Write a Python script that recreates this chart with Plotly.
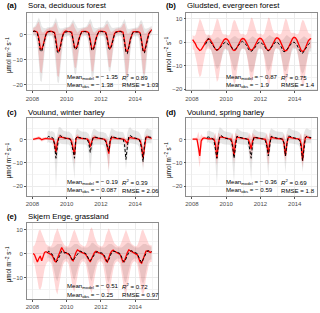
import plotly.graph_objects as go

N = None
W, H = 320, 313
MONTHS = [2008 + (i + 0.5) / 12 for i in range(84)]
X_TICKS = [2008, 2010, 2012, 2014]
X_MINOR = [2009, 2011, 2013, 2015]

# ---------------- (a) Sora, deciduous forest ----------------
A_MOD = [1.5, 1.6, 1.4, 1.0, -1.2, -5.6, -5.9, -4.2, -1.8, 0.3, 1.2, 1.4,
         1.5, 1.4, 1.3, 0.9, -2.0, -6.2, -6.6, -4.8, -1.9, 0.3, 1.2, 1.5,
         1.4, 1.5, 1.3, 1.0, -1.4, -5.0, -5.3, -4.4, -1.7, 0.3, 1.3, 1.4,
         1.5, 1.4, 1.2, 0.8, -1.9, -5.5, -5.7, -4.1, -1.4, 0.4, 1.3, 1.5,
         1.5, 1.4, 1.3, 0.9, -1.4, -5.0, -5.4, -3.9, -1.4, 0.5, 1.2, 1.4,
         1.4, 1.5, 1.3, 1.0, -2.4, -6.3, -6.8, -4.9, -1.9, 0.2, 1.2, 1.3,
         1.4, 1.3, 1.2, 0.7, -2.4, -6.2, -6.7, -4.7, -1.7, 0.5, 1.5, 2.0]
A_MOD_HI = [2.6, 2.8, 3.3, 4.5, 5.2, 3.2, 1.2, 0.8, 1.5, 2.0, 2.4, 2.5,
            2.6, 2.7, 3.1, 4.3, 5.0, 2.6, 0.8, 0.5, 1.3, 2.0, 2.3, 2.5,
            2.5, 2.7, 3.2, 4.2, 4.8, 3.0, 1.5, 0.8, 1.4, 2.1, 2.4, 2.5,
            2.6, 2.7, 3.1, 4.1, 4.6, 2.8, 1.2, 0.8, 1.5, 2.1, 2.4, 2.6,
            2.6, 2.6, 3.0, 4.0, 4.5, 3.0, 1.5, 1.0, 1.6, 2.2, 2.4, 2.5,
            2.5, 2.7, 3.1, 4.3, 4.6, 2.2, 0.5, 0.5, 1.3, 2.0, 2.3, 2.4,
            2.5, 2.5, 3.0, 4.1, 4.4, 2.3, 0.6, 0.6, 1.4, 2.2, 2.6, 3.0]
A_MOD_LO = [0.5, 0.4, -0.4, -2.5, -8.5, -15.0, -15.5, -11.0, -5.0, -1.5, 0.1, 0.4,
            0.5, 0.4, -0.5, -3.0, -9.5, -16.5, -17.0, -12.0, -5.5, -1.6, 0.1, 0.5,
            0.4, 0.5, -0.4, -2.5, -8.0, -13.0, -13.5, -10.5, -5.0, -1.4, 0.2, 0.4,
            0.5, 0.4, -0.5, -2.8, -9.0, -14.5, -15.0, -10.5, -4.5, -1.3, 0.2, 0.5,
            0.5, 0.4, -0.4, -2.5, -8.0, -13.0, -13.2, -10.0, -4.5, -1.2, 0.2, 0.4,
            0.4, 0.5, -0.4, -3.0, -10.0, -16.0, -16.8, -12.0, -5.5, -1.6, 0.1, 0.3,
            0.4, 0.3, -0.5, -3.0, -10.0, -15.5, -16.0, -11.5, -5.0, -1.3, 0.4, 1.0]
A_OBS = [1.3, 1.5, 1.2, 0.5, -2.4, -6.4, -6.8, -5.0, -2.4, 0.0, 1.0, 1.3,
         1.3, 1.2, 1.2, 0.5, -3.0, -7.0, -7.3, -5.4, -2.4, 0.0, 1.0, 1.2,
         1.2, 1.3, 1.1, 0.6, -2.0, -5.6, -5.9, -4.9, -2.2, 0.0, 1.0, 1.2,
         1.3, 1.2, 1.0, 0.4, -2.6, -6.1, -6.3, -4.7, -2.0, 0.2, 1.1, 1.3,
         1.3, 1.2, 1.0, 0.5, -2.1, -5.6, -5.9, -4.4, -2.0, 0.3, 1.0, 1.2,
         1.2, 1.3, 1.1, 0.6, -3.1, -7.1, -7.6, -5.5, -2.5, 0.0, 1.0, 1.1,
         1.2, 1.1, 1.0, 0.4, -3.0, -6.8, -7.3, -5.3, -2.3, 0.3, 1.3, 2.2]
A_OBS_HI = [3.0, 3.3, 4.2, 6.0, 7.0, 5.5, 3.5, 2.8, 2.6, 2.6, 3.0, 3.0,
            3.0, 3.2, 4.0, 5.8, 7.0, 5.0, 3.0, 2.5, 2.5, 2.6, 2.9, 3.0,
            2.9, 3.2, 4.0, 5.5, 6.2, 5.0, 3.5, 2.8, 2.6, 2.7, 3.0, 3.0,
            3.0, 3.2, 4.0, 5.6, 6.5, 5.2, 3.2, 2.7, 2.6, 2.7, 3.0, 3.1,
            3.0, 3.1, 3.9, 5.4, 6.0, 5.0, 3.5, 2.9, 2.7, 2.8, 3.0, 3.0,
            2.9, 3.2, 4.0, 5.7, 6.5, 4.5, 2.5, 2.3, 2.4, 2.6, 2.9, 2.9,
            2.9, 3.0, 3.8, 5.5, 6.0, 4.5, 2.6, 2.4, 2.5, 2.8, 3.2, 3.6]
A_OBS_LO = [-0.4, -0.3, -1.3, -4.0, -11.5, -18.5, -19.0, -14.0, -7.5, -2.8, -0.8, -0.4,
            -0.4, -0.5, -1.4, -4.5, -12.5, -19.0, -19.5, -14.5, -7.8, -2.9, -0.9, -0.5,
            -0.5, -0.4, -1.3, -4.0, -10.5, -15.5, -16.0, -13.0, -7.0, -2.7, -0.8, -0.5,
            -0.4, -0.5, -1.4, -4.2, -11.5, -17.5, -18.0, -13.5, -6.8, -2.6, -0.8, -0.4,
            -0.4, -0.5, -1.3, -4.0, -10.0, -14.5, -15.0, -12.0, -6.5, -2.5, -0.8, -0.5,
            -0.5, -0.4, -1.3, -4.5, -12.5, -18.5, -19.0, -14.5, -7.5, -2.9, -0.9, -0.6,
            -0.5, -0.6, -1.4, -4.5, -12.0, -17.0, -17.5, -14.0, -7.0, -2.6, -0.6, 0.0]

# ---------------- (b) Gludsted, evergreen forest ----------------
B_MOD = [1.0, 0.3, -0.8, -2.2, -3.2, -3.6, -3.3, -2.5, -1.3, 0.0, 0.9, 1.3,
         1.2, 0.5, -0.6, -2.0, -3.1, -3.5, -3.2, -2.4, -1.2, 0.1, 1.0, 1.4,
         1.3, 0.6, -0.5, -2.1, -3.2, -3.6, -3.4, -2.4, -1.1, 0.2, 1.1, 1.5,
         1.4, 0.6, -0.6, -2.0, -3.0, -3.5, -3.2, -2.3, -1.0, 0.3, 1.2, 1.6,
         1.5, 0.7, -0.5, -2.0, -3.1, -3.6, -3.3, -2.3, -1.0, 0.4, 1.3, 1.8,
         1.6, 0.8, -0.6, -2.2, -3.3, -3.8, -3.5, -2.4, -1.0, 0.5, 1.5, 2.0,
         1.8, 0.9, -0.6, -2.3, -3.6, -4.0, -3.6, -2.4, -0.9, 0.5, 1.2, 1.5]
B_MOD_HI = [3.0, 2.5, 3.0, 5.0, 8.0, 10.0, 9.0, 7.0, 5.0, 3.5, 3.0, 3.2,
            3.0, 2.8, 3.5, 5.5, 8.5, 10.0, 9.5, 7.0, 5.0, 3.5, 3.2, 3.3,
            3.2, 2.8, 3.2, 5.0, 8.0, 9.5, 9.0, 7.0, 5.0, 3.8, 3.3, 3.5,
            3.3, 3.0, 3.5, 5.5, 8.5, 10.5, 10.0, 7.5, 5.2, 3.8, 3.5, 3.6,
            3.5, 3.0, 3.5, 5.5, 8.5, 10.5, 10.0, 7.5, 5.2, 4.0, 3.6, 3.8,
            3.6, 3.2, 3.5, 5.2, 8.0, 10.0, 9.5, 7.2, 5.0, 4.0, 3.8, 4.0,
            3.8, 3.3, 3.5, 5.0, 8.0, 9.5, 9.0, 7.0, 5.0, 4.0, 3.5, 3.5]
B_MOD_LO = [-3.0, -3.5, -5.5, -9.0, -13.0, -15.0, -14.0, -11.0, -7.5, -4.5, -3.0, -2.8,
            -3.0, -3.5, -5.5, -9.5, -14.0, -17.0, -16.0, -12.0, -8.0, -4.5, -3.0, -2.8,
            -3.0, -3.5, -6.0, -10.0, -15.0, -18.0, -17.0, -12.5, -8.0, -4.5, -3.0, -2.8,
            -2.8, -3.5, -5.5, -9.5, -14.0, -17.0, -16.0, -12.0, -7.5, -4.3, -2.8, -2.6,
            -2.8, -3.5, -5.8, -10.0, -15.5, -19.0, -17.5, -12.5, -7.8, -4.3, -2.7, -2.5,
            -2.7, -3.4, -5.6, -9.8, -14.5, -17.5, -16.5, -12.0, -7.5, -4.0, -2.5, -2.3,
            -2.5, -3.3, -5.8, -10.5, -16.0, -19.0, -18.0, -13.0, -8.0, -4.2, -2.8, -2.5]
B_OBS = [N, N, N, N, N, N, N, N, N, -1.0, 0.5, 1.5,
         0.5, -0.5, -1.5, -2.5, -3.0, -3.5, -3.0, -2.8, -2.0, -1.0, -0.5, 0.0,
         -0.5, -1.0, -1.5, -2.2, -2.8, -3.2, -3.0, -2.5, -1.5, -0.5, 0.0, 0.3,
         -0.2, -0.8, -1.5, -3.0, -3.8, -4.0, -3.6, -3.0, -2.0, -1.0, -0.3, 0.0,
         -0.3, -0.8, -1.5, -2.8, -3.5, -3.8, -3.0, -2.5, -1.5, -0.5, 0.0, 0.2,
         -0.5, -1.0, -2.0, -3.5, -4.2, -3.8, -3.2, -2.5, -1.5, -0.8, -0.3, 0.0,
         -0.5, -1.2, -2.5, -3.8, -4.5, -4.8, -4.0, -3.0, -2.0, -1.0, -0.5, -1.0]
B_OBS_HI = [N, N, N, N, N, N, N, N, N, 1.0, 2.0, 3.0,
            2.5, 1.5, 1.0, 1.0, 1.5, 2.0, 2.0, 1.5, 1.0, 1.0, 1.2, 1.5,
            1.5, 1.0, 1.0, 1.5, 2.0, 2.5, 2.5, 2.0, 1.5, 1.5, 1.8, 2.0,
            1.8, 1.2, 1.0, 1.0, 1.5, 2.0, 2.5, 2.0, 1.5, 1.2, 1.5, 1.8,
            1.8, 1.2, 1.0, 1.5, 2.0, 2.5, 3.0, 2.5, 2.0, 1.8, 2.0, 2.2,
            1.8, 1.2, 0.8, 1.0, 1.5, 2.5, 3.0, 2.5, 2.0, 1.5, 1.8, 2.0,
            1.8, 1.0, 0.5, 1.0, 1.5, 2.0, 2.5, 2.0, 1.5, 1.2, 1.5, 1.2]
B_OBS_LO = [N, N, N, N, N, N, N, N, N, -3.5, -2.5, -1.5,
            -2.5, -3.5, -5.0, -7.5, -10.0, -11.5, -11.0, -10.0, -8.0, -5.5, -4.0, -3.0,
            -3.5, -4.0, -5.0, -7.0, -10.0, -12.0, -12.0, -10.5, -8.0, -5.0, -3.5, -2.8,
            -3.0, -3.5, -5.5, -8.5, -12.0, -13.0, -12.5, -11.0, -8.5, -5.5, -3.5, -3.0,
            -3.0, -3.5, -5.0, -8.0, -11.0, -12.5, -11.5, -10.0, -7.5, -4.5, -3.0, -2.8,
            -3.0, -4.0, -6.0, -9.0, -12.0, -12.5, -11.5, -10.0, -7.5, -5.0, -3.5, -3.0,
            -3.0, -4.0, -6.5, -9.5, -12.5, -13.5, -12.5, -10.5, -8.0, -5.5, -4.0, -4.0]

# ---------------- (c) Voulund, winter barley ----------------
C_MOD = [0.2, 0.3, 0.4, 0.6, 0.8, 0.5, 0.0, 0.3, 0.5, 0.6, 0.5, 0.4,
         0.4, 0.5, 0.3, -1.5, -5.5, -1.0, 1.0, 1.2, 1.0, 0.8, 0.7, 0.6,
         0.6, 0.6, 0.3, -1.0, -3.5, -6.5, 0.5, 1.2, 0.8, 0.6, 0.5, 0.5,
         0.5, 0.5, 0.3, -0.5, -3.0, -1.0, 0.8, 1.0, 0.8, 0.6, 0.5, 0.5,
         0.5, 0.5, 0.2, -0.5, -4.0, -6.0, -0.5, 1.0, 0.9, 0.7, 0.6, 0.5,
         0.5, 0.5, 0.4, 0.3, 0.0, -1.0, -1.5, 0.5, 1.0, 0.8, 0.6, 0.5,
         0.5, 0.4, 0.2, -0.5, -3.0, -8.0, -2.0, 1.0, 1.2, 1.0, 0.8, 0.6]
C_MOD_HI = [0.8, 0.9, 1.0, 1.3, 1.6, 1.3, 0.8, 1.0, 1.2, 1.2, 1.1, 1.0,
            1.0, 1.1, 1.0, 0.5, -1.5, 1.0, 2.5, 2.5, 2.0, 1.6, 1.4, 1.2,
            1.2, 1.2, 1.0, 0.5, 0.5, -2.0, 2.0, 2.5, 1.8, 1.4, 1.2, 1.1,
            1.1, 1.1, 1.0, 0.8, 0.0, 1.0, 2.0, 2.2, 1.7, 1.3, 1.1, 1.1,
            1.1, 1.1, 0.9, 0.8, 0.5, -1.5, 1.5, 2.2, 1.8, 1.4, 1.2, 1.1,
            1.1, 1.1, 1.1, 1.0, 1.0, 0.5, 0.5, 1.8, 2.0, 1.6, 1.3, 1.1,
            1.1, 1.0, 0.9, 0.5, 0.0, -3.5, 0.5, 2.2, 2.3, 1.8, 1.5, 1.3]
C_MOD_LO = [-0.3, -0.3, -0.2, -0.1, 0.0, -0.3, -0.8, -0.5, -0.2, 0.0, 0.0, -0.1,
            -0.2, -0.1, -0.4, -3.5, -9.0, -3.0, -0.5, 0.0, 0.0, 0.0, 0.0, 0.0,
            0.0, 0.0, -0.4, -2.5, -7.0, -10.5, -1.5, 0.0, -0.1, 0.0, -0.1, -0.1,
            -0.1, -0.1, -0.4, -2.0, -5.5, -3.0, -0.3, -0.1, -0.1, 0.0, -0.1, -0.1,
            -0.1, -0.1, -0.5, -2.0, -8.0, -13.0, -3.0, -0.2, 0.0, 0.0, 0.0, -0.1,
            -0.1, -0.1, -0.2, -0.4, -1.2, -3.0, -3.5, -0.5, 0.0, 0.0, 0.0, -0.1,
            -0.1, -0.2, -0.4, -2.0, -6.0, -12.0, -4.5, -0.3, 0.2, 0.2, 0.1, 0.0]
C_OBS = [N, N, N, N, N, N, N, N, N, N, 1.0, 1.5,
         1.0, 1.2, 0.5, -2.0, -8.0, -2.5, 1.5, 1.8, 1.2, 1.0, 0.8, 0.6,
         0.5, 0.6, 0.2, -2.0, -5.0, -8.0, 0.5, 1.5, 1.0, 0.8, 0.7, 0.6,
         0.5, 0.5, 0.0, -1.5, -5.5, -2.0, 1.0, 1.2, 1.0, 0.8, 0.6, 0.6,
         0.5, 0.4, 0.0, -1.0, -3.0, -5.0, 0.0, 1.5, 1.2, 1.0, 0.8, 0.7,
         0.6, 0.6, 0.5, 0.3, -2.0, -8.5, -3.0, 1.5, 1.8, 1.2, 1.0, 0.8,
         0.7, 0.6, 0.3, -1.0, -4.0, -9.5, -2.0, 1.0, 1.5, 1.2, 1.0, 1.0]
C_OBS_HI = [N, N, N, N, N, N, N, N, N, N, 3.5, 4.0,
            3.5, 3.8, 3.5, 3.0, 0.0, 3.5, 5.5, 5.5, 4.5, 4.0, 3.8, 3.5,
            3.5, 3.6, 3.2, 2.5, 1.0, -1.5, 4.0, 5.0, 4.2, 3.8, 3.6, 3.5,
            3.4, 3.5, 3.0, 2.5, 0.5, 3.0, 4.5, 4.8, 4.2, 3.8, 3.5, 3.5,
            3.5, 3.4, 3.0, 2.8, 1.5, 1.0, 3.5, 5.0, 4.5, 4.0, 3.8, 3.6,
            3.6, 3.6, 3.5, 3.3, 2.0, -1.0, 3.0, 5.0, 5.5, 4.5, 4.2, 4.0,
            4.0, 3.8, 3.5, 2.5, 1.0, -2.0, 3.0, 4.5, 5.0, 4.5, 4.2, 4.2]
C_OBS_LO = [N, N, N, N, N, N, N, N, N, N, -1.5, -1.0,
            -1.5, -1.5, -2.5, -7.0, -20.5, -9.0, -2.0, -1.5, -1.8, -2.0, -2.0, -2.0,
            -2.0, -2.0, -2.8, -6.5, -11.0, -17.0, -3.5, -1.8, -2.0, -2.0, -2.0, -2.0,
            -2.0, -2.0, -3.0, -6.0, -15.5, -7.0, -2.5, -2.0, -2.0, -2.0, -2.0, -2.0,
            -2.0, -2.2, -3.0, -5.0, -8.0, -14.5, -3.5, -1.8, -1.8, -1.8, -1.8, -1.8,
            -1.8, -1.8, -2.0, -2.5, -6.0, -13.0, -7.0, -1.8, -1.5, -1.6, -1.7, -1.8,
            -1.8, -2.0, -2.8, -5.5, -8.0, -13.5, -6.0, -2.0, -1.5, -1.5, -1.5, -1.5]

# ---------------- (d) Voulund, spring barley ----------------
D_MOD = [0.3, 0.3, 0.4, 0.3, -3.0, -7.0, -0.5, 0.5, 0.8, 0.6, 0.5, 0.4,
         0.5, 0.5, 0.4, 0.3, -2.0, -8.0, -1.5, 1.0, 1.2, 1.0, 0.8, 0.6,
         0.6, 0.5, 0.4, 0.3, -2.0, -7.0, -1.0, 1.2, 1.0, 0.8, 0.6, 0.5,
         0.5, 0.5, 0.4, 0.2, -1.5, -4.0, -0.5, 1.0, 0.9, 0.8, 0.6, 0.5,
         0.5, 0.5, 0.4, 0.2, -2.0, -6.0, -1.0, 1.0, 0.9, 0.7, 0.6, 0.5,
         0.5, 0.5, 0.4, 0.3, -1.5, -7.0, -1.5, 1.0, 1.0, 0.8, 0.6, 0.5,
         0.5, 0.5, 0.3, 0.2, -2.0, -9.0, -2.0, 1.0, 1.2, 1.0, 0.8, 0.6]
D_MOD_HI = [0.8, 0.8, 0.9, 1.2, 3.5, 0.5, 2.5, 1.5, 1.4, 1.1, 1.0, 0.9,
            1.0, 1.0, 0.9, 1.5, 3.0, -1.0, 3.0, 2.5, 2.0, 1.6, 1.3, 1.1,
            1.1, 1.0, 0.9, 1.5, 3.0, -1.0, 3.0, 2.5, 1.8, 1.4, 1.1, 1.0,
            1.0, 1.0, 0.9, 1.3, 3.0, 1.0, 3.0, 2.2, 1.7, 1.4, 1.1, 1.0,
            1.0, 1.0, 0.9, 1.3, 3.0, 0.0, 3.0, 2.2, 1.7, 1.3, 1.1, 1.0,
            1.0, 1.0, 0.9, 1.2, 2.5, -1.0, 2.5, 2.2, 1.8, 1.4, 1.1, 1.0,
            1.0, 1.0, 0.8, 1.2, 3.0, -2.0, 2.5, 2.4, 2.2, 1.8, 1.4, 1.1]
D_MOD_LO = [-0.2, -0.2, -0.1, -0.2, -8.0, -12.0, -4.5, -0.5, 0.2, 0.1, 0.0, -0.1,
            0.0, 0.0, -0.1, -1.0, -7.0, -11.0, -5.0, -0.3, 0.4, 0.4, 0.3, 0.1,
            0.1, 0.0, -0.1, -1.0, -6.5, -10.0, -4.5, 0.0, 0.2, 0.2, 0.1, 0.0,
            0.0, 0.0, -0.1, -1.0, -6.5, -9.5, -4.0, -0.2, 0.1, 0.2, 0.1, 0.0,
            0.0, 0.0, -0.1, -1.0, -7.0, -11.0, -5.0, -0.2, 0.1, 0.1, 0.1, 0.0,
            0.0, 0.0, -0.1, -0.6, -5.5, -9.5, -5.0, -0.3, 0.2, 0.2, 0.1, 0.0,
            0.0, 0.0, -0.2, -0.8, -7.0, -12.0, -6.0, -0.4, 0.2, 0.2, 0.2, 0.1]
D_OBS = [N, N, N, N, N, N, N, N, N, N, 1.0, 1.2,
         1.0, 0.8, 0.5, -0.5, -4.0, -8.0, -3.0, 1.5, 1.8, 1.2, 0.8, 0.6,
         0.5, 0.5, 0.3, -0.5, -3.0, -8.0, -2.0, 1.5, 1.2, 1.0, 0.8, 0.6,
         0.5, 0.5, 0.3, -0.5, -4.0, -8.0, -2.0, 1.2, 1.0, 0.8, 0.6, 0.6,
         0.5, 0.4, 0.2, -0.5, -3.0, -7.0, -2.0, 1.5, 1.2, 1.0, 0.8, 0.7,
         0.6, 0.6, 0.5, 0.2, -1.5, -7.0, -2.0, 1.5, 1.5, 1.2, 1.0, 0.8,
         0.7, 0.6, 0.3, -0.5, -3.0, -9.0, -2.5, 1.0, 1.5, 1.2, 1.0, 1.0]
D_OBS_HI = [N, N, N, N, N, N, N, N, N, N, 3.5, 4.0,
            3.8, 3.6, 3.2, 3.0, 1.5, 0.0, 3.5, 5.5, 5.0, 4.2, 3.8, 3.6,
            3.5, 3.5, 3.2, 3.0, 2.0, -1.0, 3.5, 5.0, 4.5, 4.0, 3.7, 3.5,
            3.5, 3.5, 3.2, 3.0, 1.5, -0.5, 3.5, 4.8, 4.2, 3.8, 3.5, 3.5,
            3.5, 3.4, 3.1, 3.0, 2.0, 0.0, 3.5, 5.0, 4.5, 4.0, 3.8, 3.6,
            3.6, 3.6, 3.5, 3.3, 2.5, 0.0, 3.5, 5.0, 5.0, 4.5, 4.2, 4.0,
            4.0, 3.8, 3.5, 3.0, 2.0, -1.5, 3.0, 4.5, 5.0, 4.5, 4.2, 4.2]
D_OBS_LO = [N, N, N, N, N, N, N, N, N, N, -1.5, -1.0,
            -1.5, -1.5, -2.0, -3.5, -10.0, -20.0, -8.0, -1.5, -1.5, -1.8, -2.0, -2.0,
            -2.0, -2.0, -2.2, -3.5, -9.0, -18.5, -7.0, -1.5, -1.8, -2.0, -2.0, -2.0,
            -2.0, -2.0, -2.3, -3.5, -10.0, -17.5, -7.0, -1.8, -2.0, -2.0, -2.0, -2.0,
            -2.0, -2.0, -2.2, -3.5, -8.5, -16.0, -6.5, -1.5, -1.8, -1.8, -1.8, -1.8,
            -1.8, -1.8, -1.8, -2.2, -6.0, -14.5, -6.0, -1.5, -1.5, -1.6, -1.7, -1.8,
            -1.8, -2.0, -2.2, -3.5, -7.5, -14.0, -7.0, -2.0, -1.5, -1.5, -1.5, -1.5]

# ---------------- (e) Skjern Enge, grassland ----------------
E_MOD = [0.0, -0.5, -2.0, -3.5, -2.0, -1.0, -3.0, -1.5, 0.5, 0.8, 0.5, 0.3,
         0.0, -0.5, -1.5, -3.0, -3.5, -2.0, -0.5, 1.0, 2.5, 1.5, 0.5, 0.3,
         0.0, -0.3, -1.0, -2.5, -3.0, -1.0, 0.5, 1.5, 1.0, 0.8, 0.5, 0.3,
         0.0, -0.5, -1.5, -2.5, -3.5, -2.0, -0.5, 0.5, 1.0, 0.5, 0.3, 0.2,
         0.0, -0.5, -1.5, -3.0, -3.5, -1.5, 0.0, 1.0, 1.5, 1.0, 0.5, 0.3,
         0.0, -0.5, -2.0, -3.5, -3.0, -1.0, 0.5, 1.5, 1.2, 0.8, 0.5, 0.3,
         0.0, -0.5, -2.0, -3.5, -4.0, -2.0, 0.0, 1.0, 1.2, 0.8, 0.5, 0.8]
E_MOD_HI = [3.0, 3.5, 5.0, 7.5, 9.5, 10.0, 8.5, 6.5, 5.0, 4.0, 3.5, 3.2,
            3.0, 3.5, 5.0, 7.5, 9.5, 10.5, 9.0, 7.0, 5.5, 4.5, 3.5, 3.2,
            3.0, 3.5, 5.0, 7.0, 9.0, 10.0, 8.5, 6.5, 5.0, 4.0, 3.5, 3.2,
            3.0, 3.5, 5.0, 7.5, 10.0, 11.0, 9.5, 7.0, 5.5, 4.0, 3.5, 3.2,
            3.0, 3.5, 5.0, 7.5, 9.5, 10.5, 9.0, 7.0, 5.5, 4.2, 3.5, 3.2,
            3.0, 3.5, 5.0, 7.0, 9.0, 10.0, 8.5, 6.5, 5.0, 4.0, 3.5, 3.2,
            3.0, 3.5, 5.0, 7.5, 9.5, 10.0, 8.5, 6.5, 5.0, 4.0, 3.5, 3.5]
E_MOD_LO = [-3.5, -4.5, -7.0, -11.0, -14.5, -15.0, -13.5, -10.0, -6.5, -4.5, -3.5, -3.2,
            -3.5, -4.5, -7.0, -11.5, -15.5, -17.0, -15.0, -11.0, -7.0, -4.5, -3.5, -3.2,
            -3.5, -4.5, -7.0, -11.0, -15.0, -16.0, -14.0, -10.0, -6.5, -4.5, -3.5, -3.2,
            -3.5, -4.5, -7.0, -11.0, -15.0, -16.5, -14.5, -10.5, -7.0, -4.5, -3.5, -3.2,
            -3.5, -4.5, -7.0, -11.5, -15.5, -17.0, -15.0, -11.0, -7.0, -4.5, -3.5, -3.2,
            -3.5, -4.5, -7.5, -12.0, -16.0, -17.5, -15.5, -11.0, -7.0, -4.5, -3.5, -3.2,
            -3.5, -4.5, -7.5, -12.0, -16.0, -17.0, -15.0, -10.5, -7.0, -4.5, -3.5, -3.5]
E_OBS = [N, N, N, N, N, N, N, N, N, N, 0.5, 1.0,
         0.5, 0.0, -1.0, -2.5, -3.5, -3.0, -1.5, 0.0, 1.0, 0.5, 0.3, 0.5,
         0.3, 0.0, -1.0, -2.0, -3.0, -2.0, -1.0, 0.0, 0.5, 1.0, 0.8, 0.5,
         0.3, 0.0, -1.0, -2.5, -3.0, -2.0, -1.0, 0.0, 0.5, 0.8, 0.5, 0.3,
         0.3, 0.0, -1.0, -2.5, -3.5, -2.5, -1.0, 0.5, 1.0, 1.0, 0.8, 0.5,
         0.3, 0.0, -1.5, -3.0, -3.5, -2.0, -0.5, 0.5, 1.0, 1.2, 0.8, 0.5,
         0.3, 0.0, -1.5, -3.0, -3.8, -2.5, -1.0, 0.0, 1.0, 1.2, 1.0, 0.8]
E_OBS_HI = [N, N, N, N, N, N, N, N, N, N, 2.5, 3.0,
            2.5, 2.5, 2.5, 3.0, 3.5, 4.0, 4.0, 4.0, 4.0, 3.0, 2.5, 2.5,
            2.5, 2.5, 2.5, 3.0, 3.5, 4.0, 4.0, 4.0, 3.5, 3.0, 2.5, 2.5,
            2.5, 2.5, 2.5, 3.0, 3.5, 4.5, 4.5, 4.0, 3.5, 3.0, 2.5, 2.5,
            2.5, 2.5, 2.5, 3.0, 3.5, 4.0, 4.0, 4.0, 3.5, 3.0, 2.5, 2.5,
            2.5, 2.5, 2.5, 3.0, 3.5, 4.0, 4.5, 4.5, 4.0, 3.5, 3.0, 2.5,
            2.5, 2.5, 2.5, 3.0, 3.5, 4.0, 4.0, 4.0, 3.5, 3.5, 3.0, 3.0]
E_OBS_LO = [N, N, N, N, N, N, N, N, N, N, -2.0, -1.5,
            -2.0, -2.5, -4.0, -7.5, -10.5, -11.5, -10.0, -7.0, -4.5, -3.0, -2.5, -2.0,
            -2.0, -2.5, -4.0, -7.0, -10.0, -11.0, -9.5, -7.0, -4.5, -3.0, -2.5, -2.0,
            -2.0, -2.5, -4.0, -7.5, -10.5, -11.5, -10.0, -7.0, -4.5, -3.0, -2.5, -2.0,
            -2.0, -2.5, -4.0, -7.5, -11.0, -12.0, -10.5, -7.5, -4.5, -3.0, -2.5, -2.0,
            -2.0, -2.5, -4.5, -8.0, -11.5, -12.0, -10.5, -7.5, -4.5, -3.0, -2.5, -2.0,
            -2.0, -2.5, -4.5, -8.0, -11.5, -12.5, -11.0, -7.5, -4.5, -3.0, -2.5, -2.5]

TAGS = ["(a)", "(b)", "(c)", "(d)", "(e)"]
TITLES = ["Sora, deciduous forest", "Gludsted, evergreen forest",
          "Voulund, winter barley", "Voulund, spring barley", "Skjern Enge, grassland"]
MEAN_MODEL = ["1.35", "0.87", "0.19", "0.36", "0.51"]
MEAN_OBS = ["1.38", "1.9", "0.087", "0.59", "0.25"]
R2 = ["0.89", "0.75", "0.39", "0.69", "0.72"]
RMSE = ["1.03", "1.4", "2.06", "1.8", "0.97"]
Y_RANGES = [[-22.4, 8.8], [-20.6, 12.4], [-24.2, 9.3], [-24.2, 9.3], [-18.9, 12.9]]
Y_TICKS = [[-20, -10, 0], [-20, -10, 0, 10], [-20, -10, 0], [-20, -10, 0], [-10, 0, 10]]
Y_MINOR = [[-15, -5, 5], [-15, -5, 5], [-15, -5, 5], [-15, -5, 5], [-15, -5, 5]]

SERIES = [
    (A_MOD, A_MOD_LO, A_MOD_HI, A_OBS, A_OBS_LO, A_OBS_HI),
    (B_MOD, B_MOD_LO, B_MOD_HI, B_OBS, B_OBS_LO, B_OBS_HI),
    (C_MOD, C_MOD_LO, C_MOD_HI, C_OBS, C_OBS_LO, C_OBS_HI),
    (D_MOD, D_MOD_LO, D_MOD_HI, D_OBS, D_OBS_LO, D_OBS_HI),
    (E_MOD, E_MOD_LO, E_MOD_HI, E_OBS, E_OBS_LO, E_OBS_HI),
]

# ---------------- layout geometry (pixels) ----------------
COLS = [(26, 157), (186, 317)]
ROWS = [(13, 91), (119, 197), (224, 301)]
POS = [(0, 0), (1, 0), (0, 1), (1, 1), (0, 2)]
TITLE_Y = [6, 113, 218]
FONT = "Liberation Sans, Arial, Helvetica, sans-serif"


def fx(p):
    return p / W


def fy(p):
    return 1 - p / H


def polygon(xs, lo, hi):
    pts = [(x, l, h) for x, l, h in zip(xs, lo, hi) if l is not None and h is not None]
    px = [p[0] for p in pts] + [p[0] for p in reversed(pts)]
    py = [p[2] for p in pts] + [p[1] for p in reversed(pts)]
    return px, py


fig = go.Figure()
annotations = []
layout = {}

for i in range(5):
    c, r = POS[i]
    x0, x1 = COLS[c]
    y0, y1 = ROWS[r]
    ax = "" if i == 0 else str(i + 1)
    xref, yref = "x" + ax, "y" + ax
    mod, mlo, mhi, obs, olo, ohi = SERIES[i]

    px, py = polygon(MONTHS, olo, ohi)
    fig.add_trace(go.Scatter(x=px, y=py, fill="toself", fillcolor="rgba(120,120,120,0.19)",
                             line=dict(width=0), mode="lines", hoverinfo="skip",
                             showlegend=False, xaxis=xref, yaxis=yref))
    px, py = polygon(MONTHS, mlo, mhi)
    fig.add_trace(go.Scatter(x=px, y=py, fill="toself", fillcolor="rgba(255,40,40,0.19)",
                             line=dict(width=0), mode="lines", hoverinfo="skip",
                             showlegend=False, xaxis=xref, yaxis=yref))
    fig.add_trace(go.Scatter(x=MONTHS, y=mod, mode="lines", line=dict(color="#ff0000", width=1.3),
                             showlegend=False, xaxis=xref, yaxis=yref))
    fig.add_trace(go.Scatter(x=MONTHS, y=obs, mode="lines",
                             line=dict(color="#000000", width=1.0, dash="3px,2px"),
                             connectgaps=False, showlegend=False, xaxis=xref, yaxis=yref))

    common = dict(showline=True, linecolor="#8c8c8c", linewidth=0.8, mirror=True,
                  showgrid=True, gridcolor="#ebebeb", gridwidth=0.8, zeroline=False,
                  ticks="outside", ticklen=2, tickwidth=0.6, tickcolor="#555555",
                  tickfont=dict(family=FONT, size=6, color="#4d4d4d"))
    layout["xaxis" + ax] = dict(domain=[fx(x0), fx(x1)], anchor=yref, range=[2007.68, 2015.30],
                                tickvals=X_TICKS, ticktext=[str(v) for v in X_TICKS],
                                minor=dict(tickvals=X_MINOR, showgrid=True, gridcolor="#f4f4f4",
                                           gridwidth=0.5, ticks=""),
                                **common)
    layout["yaxis" + ax] = dict(domain=[fy(y1), fy(y0)], anchor=xref, range=Y_RANGES[i],
                                tickvals=Y_TICKS[i], ticktext=[str(v).replace("-", "\u2212") for v in Y_TICKS[i]],
                                minor=dict(tickvals=Y_MINOR[i], showgrid=True, gridcolor="#f4f4f4",
                                           gridwidth=0.5, ticks=""),
                                **common)

    col_off = 0 if c == 0 else 160
    annotations.append(dict(x=fx(col_off + 4), y=fy(TITLE_Y[r]), xref="paper", yref="paper",
                            text="<b>" + TAGS[i] + "</b>", showarrow=False, xanchor="left",
                            yanchor="middle", font=dict(family=FONT, size=7.8, color="#000")))
    annotations.append(dict(x=fx(col_off + 25), y=fy(TITLE_Y[r]), xref="paper", yref="paper",
                            text=TITLES[i], showarrow=False, xanchor="left",
                            yanchor="middle", font=dict(family=FONT, size=7.8, color="#000")))
    annotations.append(dict(x=fx(col_off + 8.5), y=fy((y0 + y1) / 2 + 3), xref="paper", yref="paper",
                            text="\u03bcmol m<sup>\u22122</sup> s<sup>\u22121</sup>", textangle=-90,
                            showarrow=False, xanchor="center", yanchor="middle",
                            font=dict(family=FONT, size=6.3, color="#000")))
    tx1 = x0 + 38
    tx2 = x0 + 93
    ty1 = y0 + 64
    ty2 = y0 + 72.5
    stat_font = dict(family=FONT, size=6.1, color="#000")
    annotations.append(dict(x=fx(tx1), y=fy(ty1), xref="paper", yref="paper",
                            text="Mean<sub>model</sub> = \u2212 " + MEAN_MODEL[i], showarrow=False,
                            xanchor="left", yanchor="middle", font=stat_font))
    annotations.append(dict(x=fx(tx1), y=fy(ty2), xref="paper", yref="paper",
                            text="Mean<sub>obs</sub> = \u2212 " + MEAN_OBS[i], showarrow=False,
                            xanchor="left", yanchor="middle", font=stat_font))
    annotations.append(dict(x=fx(tx2), y=fy(ty1), xref="paper", yref="paper",
                            text="<i>R</i><sup>2</sup> = " + R2[i], showarrow=False,
                            xanchor="left", yanchor="middle", font=stat_font))
    annotations.append(dict(x=fx(tx2), y=fy(ty2), xref="paper", yref="paper",
                            text="RMSE = " + RMSE[i], showarrow=False,
                            xanchor="left", yanchor="middle", font=stat_font))

fig.update_layout(width=W, height=H, margin=dict(l=0, r=0, t=0, b=0),
                  paper_bgcolor="white", plot_bgcolor="white",
                  annotations=annotations, **layout)
fig.write_html("out.html", config={"displayModeBar": False},
               post_script="document.body.style.margin='0';document.body.style.padding='0';")
